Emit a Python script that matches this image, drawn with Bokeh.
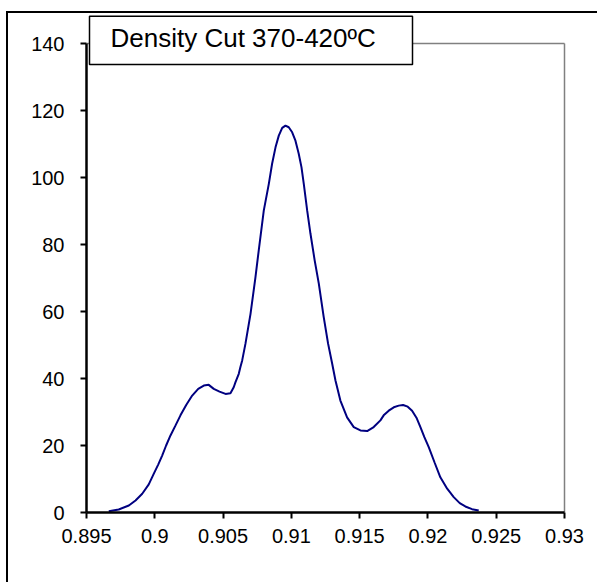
from bokeh.plotting import figure
from bokeh.models import FixedTicker, BoxAnnotation, Label, Range1d
from bokeh.embed import file_html
from bokeh.resources import INLINE

title_text = "Density Cut 370-420ºC"

density = [0.89663, 0.89736, 0.89810, 0.89859, 0.89908, 0.89956, 0.89993, 0.90025,
           0.90054, 0.90083, 0.90115, 0.90152, 0.90188, 0.90230, 0.90274, 0.90318,
           0.90359, 0.90395, 0.90432, 0.90474, 0.90518, 0.90554, 0.90578, 0.90591,
           0.90615, 0.90627, 0.90640, 0.90664, 0.90701, 0.90737, 0.90761, 0.90798,
           0.90835, 0.90859, 0.90884, 0.90908, 0.90933, 0.90957, 0.90981, 0.91006,
           0.91030, 0.91054, 0.91074, 0.91091, 0.91116, 0.91140, 0.91171, 0.91201,
           0.91237, 0.91269, 0.91299, 0.91323, 0.91359, 0.91408, 0.91457, 0.91506,
           0.91555, 0.91603, 0.91652, 0.91676, 0.91713, 0.91750, 0.91786, 0.91818,
           0.91852, 0.91884, 0.91916, 0.91945, 0.91974, 0.92006, 0.92048, 0.92091,
           0.92141, 0.92189, 0.92233, 0.92274, 0.92323, 0.92372]
frequency = [0.4, 0.9, 2.1, 3.6, 5.6, 8.4, 11.6, 14.3,
             17.0, 20.0, 23.0, 26.0, 29.0, 32.1, 34.9, 36.9,
             37.9, 38.1, 36.9, 36.1, 35.4, 35.6, 37.4, 38.9,
             41.4, 43.4, 45.4, 50.4, 59.3, 70.2, 78.2, 90.1,
             98.1, 104.1, 109.0, 112.5, 114.8, 115.5, 115.0, 113.5,
             111.0, 107.1, 103.1, 98.1, 90.1, 83.2, 75.2, 68.3,
             58.3, 50.4, 44.4, 39.4, 33.4, 28.4, 25.5, 24.5,
             24.3, 25.5, 27.5, 29.0, 30.4, 31.4, 31.9, 32.1,
             31.6, 30.4, 28.3, 25.5, 22.5, 19.5, 15.0, 10.5,
             7.1, 4.6, 2.8, 1.8, 1.0, 0.6]

x_ticks = [0.895, 0.9, 0.905, 0.91, 0.915, 0.92, 0.925, 0.93]
x_tick_labels = ["0.895", "0.9", "0.905", "0.91", "0.915", "0.92", "0.925", "0.93"]
y_ticks = [0, 20, 40, 60, 80, 100, 120, 140]
y_tick_labels = ["0", "20", "40", "60", "80", "100", "120", "140"]

FONT = "Liberation Sans"

# layout (canvas pixels)
W, H = 591, 571
AX_LEFT, AX_BOTTOM, AX_TOP, AX_RIGHT = 78, 499, 30, 556
FRAME_RIGHT = 576

x0, x1 = x_ticks[0], x_ticks[-1]
y0, y1 = y_ticks[0], y_ticks[-1]
ux = (x1 - x0) / (AX_RIGHT - AX_LEFT)
uy = (y1 - y0) / (AX_BOTTOM - AX_TOP)

p = figure(width=W, height=H, output_backend="svg", toolbar_location=None,
           x_range=Range1d(x0, x1 + (FRAME_RIGHT - AX_RIGHT) * ux),
           y_range=Range1d(y0, y1 + AX_TOP * uy),
           min_border_left=AX_LEFT, min_border_right=W - FRAME_RIGHT,
           min_border_top=0, min_border_bottom=H - AX_BOTTOM)
p.styles = {"margin-left": "6px", "margin-top": "11px",
            "border-left": "2px solid black", "border-top": "2px solid black"}

# plot-area border (top and right, grey)
p.segment(x0=[x0, x1], y0=[y1, y0], x1=[x1, x1], y1=[y1, y1],
          line_color="#808080", line_width=1.5)

p.line(density, frequency, line_color="#000080", line_width=2)

p.grid.visible = False
p.outline_line_color = None
p.background_fill_color = "white"
p.border_fill_color = "white"

for ax, ticks, labels, bnds in ((p.xaxis[0], x_ticks, x_tick_labels, (x0, x1)),
                                 (p.yaxis[0], y_ticks, y_tick_labels, (y0, y1))):
    ax.ticker = FixedTicker(ticks=ticks)
    ax.major_label_overrides = {t: l for t, l in zip(ticks, labels)}
    ax.bounds = bnds
    ax.axis_line_color = "black"
    ax.axis_line_width = 2.5
    ax.major_tick_line_color = "black"
    ax.major_tick_line_width = 2
    ax.major_tick_out = 6
    ax.major_tick_in = 0
    ax.minor_tick_line_color = None
    ax.major_label_text_font = FONT
    ax.major_label_text_font_size = "20px"
    ax.major_label_text_color = "black"

p.xaxis[0].major_label_standoff = 10
p.yaxis[0].major_label_standoff = 16

# title box
tbox = BoxAnnotation(left=79, right=402, top=0.75, bottom=49,
                     left_units="canvas", right_units="canvas",
                     top_units="canvas", bottom_units="canvas",
                     fill_color="white", fill_alpha=1.0, line_color="black",
                     line_alpha=1.0, line_width=1.5, level="overlay")
p.add_layout(tbox)

title = Label(x=100, y=22.5, x_units="canvas", y_units="canvas", text=title_text,
              text_font=FONT, text_font_size="26px", text_color="black",
              text_baseline="alphabetic", text_align="left", level="overlay")
p.add_layout(title)

open("out.html", "w").write(file_html(p, INLINE))
